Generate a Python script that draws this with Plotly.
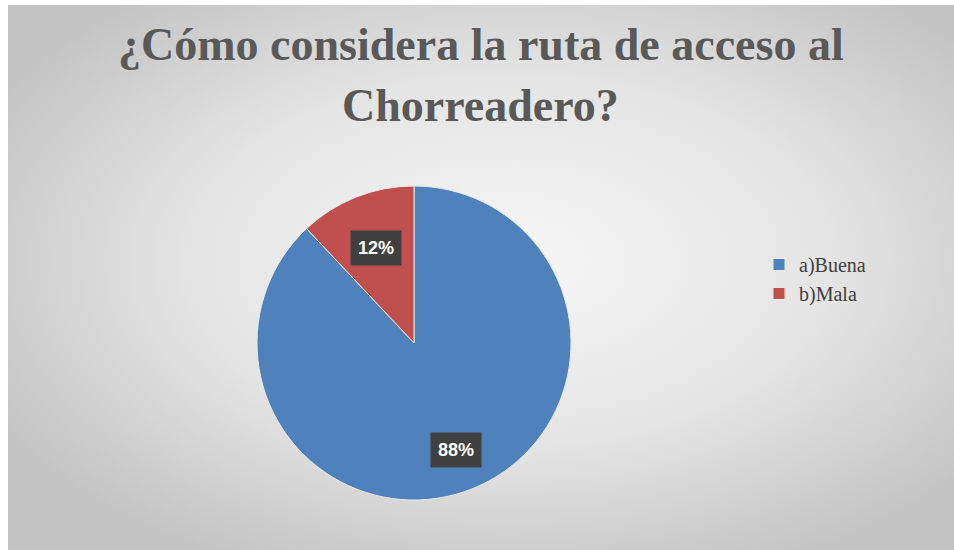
import base64
import math
import plotly.graph_objects as go

categories = ["a)Buena", "b)Mala"]
values = [88, 12]
colors = ["#4f81bd", "#c0504d"]
title_lines = ["¿Cómo considera la ruta de acceso al", "Chorreadero?"]

W, H = 954, 550
BX, BY = 8, 5  # white frame on the left and top of the chart area

GW, GH = W - BX, H - BY
svg = f"""<svg xmlns='http://www.w3.org/2000/svg' width='{GW}' height='{GH}' viewBox='0 0 {GW} {GH}' preserveAspectRatio='none'>
<defs><radialGradient id='g' cx='0.53' cy='0.47' r='0.62' gradientUnits='objectBoundingBox'>
<stop offset='0' stop-color='#f7f7f7'/><stop offset='0.55' stop-color='#e4e4e4'/><stop offset='1' stop-color='#c4c4c4'/>
</radialGradient></defs>
<rect x='0' y='0' width='{GW}' height='{GH}' fill='url(#g)'/></svg>"""
src = "data:image/svg+xml;base64," + base64.b64encode(svg.encode()).decode()

cx, cy, r = 414, 343, 157
dom_x = [(cx - r) / W, (cx + r) / W]
dom_y = [(H - cy - r) / H, (H - cy + r) / H]

fig = go.Figure()
fig.add_trace(go.Pie(
    labels=categories, values=values, sort=False, direction="clockwise", rotation=0,
    marker=dict(colors=colors, line=dict(color="#e8e8e8", width=1)),
    textinfo="none", hoverinfo="label+percent",
    domain=dict(x=dom_x, y=dom_y),
))

total = sum(values)
cum = 0
annotations = []
label_r = [0.73, 0.65]
for i, v in enumerate(values):
    mid = (cum + v / 2) / total * 2 * math.pi
    cum += v
    px = cx + label_r[i] * r * math.sin(mid)
    py = cy - label_r[i] * r * math.cos(mid)
    annotations.append(dict(
        x=px / W, y=1 - py / H, xref="paper", yref="paper",
        text=f"<b>{round(v / total * 100)}%</b>", showarrow=False,
        font=dict(family="Liberation Sans, Arial", size=18, color="white"),
        bgcolor="#404040", borderpad=7, xanchor="center", yanchor="middle",
    ))

title_y = [45, 105]
for line, ty in zip(title_lines, title_y):
    annotations.append(dict(
        x=481 / W, y=1 - ty / H, xref="paper", yref="paper",
        text=f"<b>{line}</b>", showarrow=False, xanchor="center", yanchor="middle",
        font=dict(family="Liberation Serif, Times New Roman", size=46, color="#595959"),
    ))

fig.update_layout(
    width=W, height=H,
    margin=dict(l=0, r=0, t=0, b=0),
    paper_bgcolor="white", plot_bgcolor="rgba(0,0,0,0)",
    images=[dict(source=src, xref="paper", yref="paper", x=BX / W, y=1 - BY / H,
                 sizex=GW / W, sizey=GH / H, xanchor="left", yanchor="top",
                 sizing="stretch", layer="below")],
    legend=dict(x=759 / W, y=1 - 245 / H, xanchor="left", yanchor="top",
                font=dict(family="Liberation Serif, Times New Roman", size=20, color="#404040"),
                bgcolor="rgba(0,0,0,0)", itemwidth=30, tracegroupgap=0),
    annotations=annotations,
    showlegend=True,
)

fig.write_html("out.html", config={"displayModeBar": False},
               post_script="document.body.style.margin='0';document.body.style.overflow='hidden';")
